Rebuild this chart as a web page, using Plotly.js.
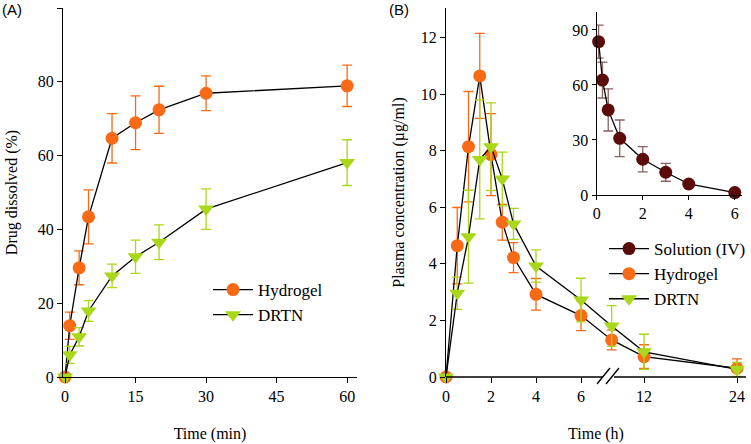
<!DOCTYPE html>
<html>
<head>
<meta charset="utf-8">
<script src="https://cdn.plot.ly/plotly-3.0.1.min.js"></script>
<style>html,body{margin:0;padding:0;background:#fff;}#chart{width:751px;height:444px;}</style>
</head>
<body>
<div id="chart"></div>
<script>
// ---------- Panel A: dissolution ----------
const timeMin = [0, 1, 3, 5, 10, 15, 20, 30, 60];
const hydrogelDiss = [0, 13.9, 29.6, 43.4, 64.7, 68.9, 72.4, 76.9, 78.9];
const hydrogelDissSD = [0, 3.7, 4.6, 7.3, 6.7, 7.3, 6.4, 4.7, 5.6];
const drtnDiss = [0, 6.0, 10.9, 17.9, 27.4, 32.6, 36.5, 45.5, 58.1];
const drtnDissSD = [0, 2.3, 2.5, 2.8, 3.2, 4.5, 4.7, 5.5, 6.2];
const ticksA_x = [0, 15, 30, 45, 60];
const ticksA_y = [0, 20, 40, 60, 80, 100];

// ---------- Panel B: plasma concentration ----------
const timeH = [0, 0.5, 1, 1.5, 2, 2.5, 3, 4, 6, 8, 12, 24];
const hydrogelPlasma = [0, 4.64, 8.14, 10.64, 7.86, 5.47, 4.22, 2.92, 2.17, 1.31, 0.72, 0.31];
const hydrogelPlasmaSD = [0, 1.35, 1.95, 1.5, 1.45, 0.63, 0.53, 0.56, 0.53, 0.35, 0.42, 0.33];
const drtnPlasma = [0, 2.96, 4.96, 7.69, 8.14, 7.0, 5.41, 3.92, 2.72, 1.8, 0.89, 0.27];
const drtnPlasmaSD = [0, 0.57, 1.64, 2.1, 1.55, 0.95, 0.55, 0.57, 0.77, 0.72, 0.62, 0.25];
const ticksB_hours = [0, 2, 4, 6, 12, 24];
const ticksB_y = [0, 2, 4, 6, 8, 10, 12];

// ---------- Inset: IV solution ----------
const timeIV = [0.083, 0.25, 0.5, 1, 2, 3, 4, 6];
const solutionIV = [83.6, 62.7, 46.4, 30.9, 19.5, 12.4, 6.0, 1.3];
const solutionIVSD = [9.0, 9.8, 11.5, 10.0, 6.9, 4.9, 1.5, 0.5];
const ticksInset_x = [0, 2, 4, 6];
const ticksInset_y = [0, 30, 60, 90];

// broken time axis: hours -> axis position (scale definition)
const knotHours = [0, 6, 8, 12, 24];
const knotPos = [0, 6, 7.36, 8.8, 12.93];
function toAxis(t) {
  for (let i = 1; i < knotHours.length; i++) {
    if (t <= knotHours[i]) {
      const f = (t - knotHours[i-1]) / (knotHours[i] - knotHours[i-1]);
      return knotPos[i-1] + f * (knotPos[i] - knotPos[i-1]);
    }
  }
  return knotPos[knotPos.length-1];
}

const W = 751, H = 444;
const px = v => v / W;
const py = v => (H - v) / H;

const ORANGE = '#F96A16';
const GREEN = '#A9D81A';
const MAROON = '#5C0B0B';
const SERIF = 'Liberation Serif';

function trace(x, y, sd, color, symbol, name, xa, ya, legend, errColor) {
  return {
    x: x, y: y, type: 'scatter', mode: 'lines+markers', name: name,
    xaxis: xa, yaxis: ya, legend: legend, cliponaxis: false,
    line: {color: '#000', width: 1.3},
    marker: {color: color, size: symbol === 'circle' ? 13 : 14, symbol: symbol},
    error_y: {type: 'data', array: sd, visible: true, color: errColor || color, thickness: 1.3, width: 5}
  };
}

const xB = timeH.map(toAxis);
const data = [
  trace(timeMin, hydrogelDiss, hydrogelDissSD, ORANGE, 'circle', 'Hydrogel', 'x', 'y', 'legend', null),
  trace(timeMin, drtnDiss, drtnDissSD, GREEN, 'triangle-down', 'DRTN', 'x', 'y', 'legend', null),
  trace(timeIV, solutionIV, solutionIVSD, MAROON, 'circle', 'Solution (IV)', 'x3', 'y3', 'legend2', '#8A6262'),
  trace(xB, hydrogelPlasma, hydrogelPlasmaSD, ORANGE, 'circle', 'Hydrogel', 'x2', 'y2', 'legend2', null),
  trace(xB, drtnPlasma, drtnPlasmaSD, GREEN, 'triangle-down', 'DRTN', 'x2', 'y2', 'legend2', null)
];

const tickFont = {family: SERIF, size: 16, color: '#000'};
const titleFont = {family: SERIF, size: 16, color: '#000'};
const baseAxis = {
  showline: true, linecolor: '#000', linewidth: 1.3, ticks: 'outside', ticklen: 5,
  tickwidth: 1.2, tickcolor: '#000', showgrid: false, zeroline: false, tickfont: tickFont,
  automargin: false
};

const layout = {
  width: W, height: H,
  font: {family: SERIF, color: '#000'},
  margin: {l: 0, r: 0, t: 0, b: 0, autoexpand: false},
  paper_bgcolor: '#fff', plot_bgcolor: 'rgba(0,0,0,0)',
  xaxis: Object.assign({}, baseAxis, {
    domain: [px(63), px(357)], range: [-0.43, 62.1], tickvals: ticksA_x,
    anchor: 'y',
    title: {text: 'Time (min)', font: titleFont, standoff: 23}
  }),
  yaxis: Object.assign({}, baseAxis, {
    domain: [py(377), py(8)], range: [0, 100], tickvals: ticksA_y,
    anchor: 'x',
    title: {text: 'Drug dissolved (%)', font: titleFont, standoff: 16}
  }),
  xaxis2: Object.assign({}, baseAxis, {
    domain: [px(446), px(746)], range: [0, 13.33],
    tickvals: ticksB_hours.map(toAxis), ticktext: ticksB_hours.map(String),
    showline: false, anchor: 'y2',
    title: {text: 'Time (h)', font: titleFont, standoff: 23}
  }),
  yaxis2: Object.assign({}, baseAxis, {
    domain: [py(377), py(8)], range: [0, 13.04], tickvals: ticksB_y,
    anchor: 'x2',
    title: {text: 'Plasma concentration (µg/ml)', font: titleFont, standoff: 12}
  }),
  xaxis3: Object.assign({}, baseAxis, {
    domain: [px(596.7), px(741.7)], range: [0, 6.3], tickvals: ticksInset_x,
    anchor: 'y3', ticklen: 4
  }),
  yaxis3: Object.assign({}, baseAxis, {
    domain: [py(195), py(12)], range: [0, 99.8], tickvals: ticksInset_y,
    anchor: 'x3', ticklen: 4
  }),
  legend: {
    x: px(208), y: py(272), xanchor: 'left', yanchor: 'top',
    bgcolor: 'rgba(0,0,0,0)', font: {family: SERIF, size: 17, color: '#000'},
    itemwidth: 40, tracegroupgap: 0
  },
  legend2: {
    x: 1, y: py(231), xanchor: 'right', yanchor: 'top',
    bgcolor: 'rgba(0,0,0,0)', font: {family: SERIF, size: 17, color: '#000'},
    itemwidth: 40, tracegroupgap: 0
  },
  annotations: [
    {text: '(A)', xref: 'paper', yref: 'paper', x: px(0), y: py(9), xanchor: 'left', yanchor: 'middle',
     showarrow: false, font: {family: 'Liberation Sans', size: 15, color: '#000'}},
    {text: '(B)', xref: 'paper', yref: 'paper', x: px(387), y: py(9), xanchor: 'left', yanchor: 'middle',
     showarrow: false, font: {family: 'Liberation Sans', size: 15, color: '#000'}}
  ],
  shapes: [
    {type: 'line', xref: 'paper', yref: 'paper', x0: px(446), x1: px(603), y0: py(377), y1: py(377), line: {color: '#000', width: 1.3}},
    {type: 'line', xref: 'paper', yref: 'paper', x0: px(614), x1: px(746), y0: py(377), y1: py(377), line: {color: '#000', width: 1.3}},
    {type: 'line', xref: 'paper', yref: 'paper', x0: px(597), x1: px(610), y0: py(384), y1: py(368), line: {color: '#000', width: 1.3}},
    {type: 'line', xref: 'paper', yref: 'paper', x0: px(606), x1: px(619), y0: py(384), y1: py(368), line: {color: '#000', width: 1.3}}
  ]
};

Plotly.newPlot('chart', data, layout, {displayModeBar: false});
</script>
</body>
</html>
